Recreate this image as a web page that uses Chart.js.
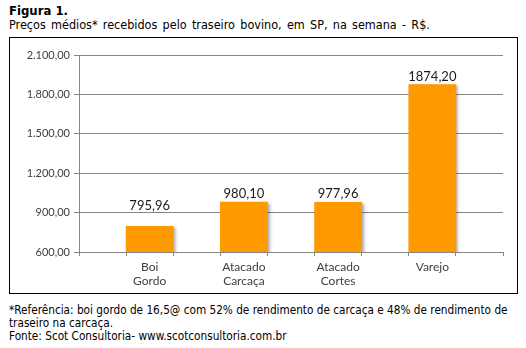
<!DOCTYPE html>
<html>
<head>
<meta charset="utf-8">
<script src="https://cdn.jsdelivr.net/npm/chart.js@4/dist/chart.umd.min.js"></script>
<style>
  body { margin: 0; background: #fff; width: 526px; height: 348px; position: relative; font-family: "DejaVu Sans Condensed", "DejaVu Sans", sans-serif; color: #000; }
  #titulo { position: absolute; left: 9px; top: 3px; font-size: 13px; font-weight: bold; }
  #subtitulo { position: absolute; left: 9px; top: 17px; font-size: 12.5px; word-spacing: 1.7px; white-space: nowrap; }
  #caixa { position: absolute; left: 9px; top: 37px; width: 507px; height: 255px; border: 1px solid #000; }
  #caixa canvas { display: block; }
  #rodape { position: absolute; left: 9px; top: 304px; font-size: 11.7px; line-height: 13px; white-space: nowrap; }
</style>
</head>
<body>
<div id="titulo">Figura 1.</div>
<div id="subtitulo">Preços médios* recebidos pelo traseiro bovino, em SP, na semana - R$.</div>
<div id="caixa"><canvas id="grafico" width="507" height="255"></canvas></div>
<div id="rodape">*Referência: boi gordo de 16,5@ com 52% de rendimento de carcaça e 48% de rendimento de<br>traseiro na carcaça.<br>Fonte: Scot Consultoria- www.scotconsultoria.com.br</div>

<script>
// dados (o grafico original tem colunas vazias entre as barras)
var categorias = ['', ['Boi', 'Gordo'], '', ['Atacado', 'Carcaça'], '', ['Atacado', 'Cortes'], '', 'Varejo', ''];
var precos = [null, 795.96, null, 980.10, null, 977.96, null, 1874.20, null];
var eixoY = [600, 900, 1200, 1500, 1800, 2100];

var fmtEixo = new Intl.NumberFormat('pt-BR', { minimumFractionDigits: 2, maximumFractionDigits: 2 });

// sombra das barras
var sombra = {
    id: 'sombra',
    beforeDatasetsDraw: function (chart) {
        var ctx = chart.ctx;
        ctx.save();
        ctx.shadowColor = 'rgba(0,0,0,0.35)';
        ctx.shadowOffsetX = 2;
        ctx.shadowOffsetY = 1;
        ctx.shadowBlur = 3;
    },
    afterDatasetsDraw: function (chart) {
        chart.ctx.restore();
    }
};

// rotulos em cima das barras (sobe o rotulo se cair em cima de uma linha de grade)
var rotulos = {
    id: 'rotulos',
    afterDraw: function (chart) {
        var ctx = chart.ctx;
        var meta = chart.getDatasetMeta(0);
        var yScale = chart.scales.y;
        ctx.save();
        ctx.font = '13px Lato, sans-serif';
        ctx.fillStyle = '#1a1a1a';
        ctx.textAlign = 'center';
        ctx.textBaseline = 'alphabetic';
        meta.data.forEach(function (bar, i) {
            if (precos[i] == null) return;
            var base = bar.y - 4;
            eixoY.forEach(function (v) {
                var py = yScale.getPixelForValue(v);
                if (py >= base - 11 && py <= base + 2) base = py - 3;
            });
            ctx.fillText(precos[i].toFixed(2).replace('.', ','), bar.x, base);
        });
        ctx.restore();
    }
};

const CHART = document.getElementById('grafico');
let barChart = new Chart(CHART, {
    type: 'bar',
    data: {
        labels: categorias,
        datasets: [{
            data: precos,
            backgroundColor: '#FF9900',
            borderWidth: 0,
            barPercentage: 1,
            categoryPercentage: 1
        }]
    },
    options: {
        responsive: false,
        animation: false,
        layout: { padding: { top: 17, right: 14, left: 0, bottom: 0 } },
        plugins: { legend: { display: false }, tooltip: { enabled: false } },
        scales: {
            x: {
                offset: true,
                grid: { offset: true, drawOnChartArea: false, color: '#868686', tickLength: 4 },
                border: { color: '#868686' },
                ticks: { color: '#404040', font: { family: 'Lato, sans-serif', size: 12, lineHeight: 1.1 }, padding: 5, maxRotation: 0, autoSkip: false },
                afterFit: function (s) { s.height = 41; }
            },
            y: {
                min: eixoY[0],
                max: eixoY[eixoY.length - 1],
                afterBuildTicks: function (s) { s.ticks = eixoY.map(function (v) { return { value: v }; }); },
                grid: { color: '#868686', tickLength: 5 },
                border: { color: '#868686' },
                ticks: {
                    color: '#404040',
                    font: { family: 'Lato, sans-serif', size: 11 },
                    padding: 4,
                    callback: function (v) { return fmtEixo.format(v); }
                },
                afterFit: function (s) { s.width = 69; }
            }
        }
    },
    plugins: [sombra, rotulos]
});
</script>
</body>
</html>
